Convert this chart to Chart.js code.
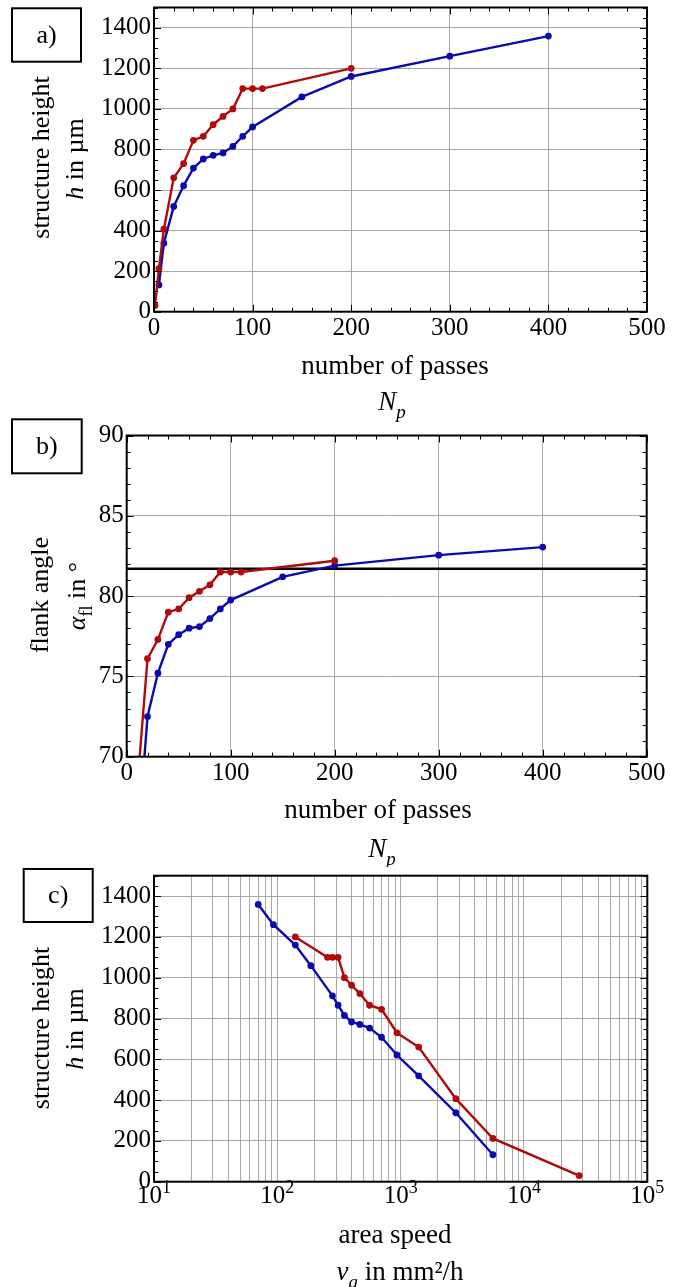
<!DOCTYPE html>
<html>
<head>
<meta charset="utf-8">
<script src="https://cdn.jsdelivr.net/npm/chart.js@4.4.1/dist/chart.umd.min.js"></script>
<style>
  body { margin: 0; background: #fff; width: 680px; height: 1287px; position: relative; overflow: hidden; }
  .panel { position: absolute; left: 0; width: 680px; }
</style>
</head>
<body>
<div class="panel" style="top:0;height:425px"><canvas id="chartA" width="680" height="425"></canvas></div>
<div class="panel" style="top:412px;height:455px"><canvas id="chartB" width="680" height="455"></canvas></div>
<div class="panel" style="top:862px;height:425px"><canvas id="chartC" width="680" height="425"></canvas></div>
<script>
// number of passes for the two series
const passesRed = [1, 5, 10, 20, 30, 40, 50, 60, 70, 80, 90, 100, 110, 200];
const passesBlue = [5, 10, 20, 30, 40, 50, 60, 70, 80, 90, 100, 150, 200, 300, 400];

// structure height h in µm
const heightRed = [30, 212, 407, 660, 730, 845, 865, 922, 963, 1000, 1100, 1100, 1100, 1200];
const heightBlue = [132, 338, 519, 621, 708, 753, 771, 783, 815, 865, 911, 1059, 1160, 1260, 1359];

// flank angle in degrees
const angleRed = [10, 52, 68, 76.1, 77.3, 79.0, 79.2, 79.9, 80.3, 80.7, 81.5, 81.5, 81.5, 82.2];
const angleBlue = [39, 64, 72.5, 75.2, 77.0, 77.6, 78.0, 78.1, 78.6, 79.2, 79.75, 81.2, 81.9, 82.55, 83.05];
const refAngle = 81.7;

// area speed in mm²/h
const speedRed = [28000, 5600, 2800, 1400, 933, 700, 560, 467, 400, 350, 311, 280, 255, 140];
const speedBlue = [5600, 2800, 1400, 933, 700, 560, 467, 400, 350, 311, 280, 187, 140, 93, 70];

// tick labels
const passTicks = [0, 100, 200, 300, 400, 500];
const heightTicks = [0, 200, 400, 600, 800, 1000, 1200, 1400];
const angleTicks = [70, 75, 80, 85, 90];
const speedDecades = [10, 100, 1000, 10000, 100000];
const decadeExponents = ['1', '2', '3', '4', '5'];

const RED = '#b00a0a';
const BLUE = '#0a0ab0';
const GRID = '#a8a8a8';
const SERIF = '"Liberation Serif", "Times New Roman", serif';
const TICK_SIZE = 25;

function pts(xs, ys) {
  return xs.map((x, i) => ({ x: x, y: ys[i] }));
}

function series(xs, ys, color) {
  return {
    data: pts(xs, ys),
    borderColor: color,
    backgroundColor: color,
    borderWidth: 2.4,
    pointRadius: 2.2,
    pointHoverRadius: 2.2,
    showLine: true,
    tension: 0,
  };
}

function drawRich(ctx, parts, x, y, size, rot) {
  ctx.save();
  ctx.translate(x, y);
  if (rot) ctx.rotate(-Math.PI / 2);
  ctx.fillStyle = '#000';
  ctx.textBaseline = 'alphabetic';
  ctx.textAlign = 'left';
  const font = p => (p.i ? 'italic ' : '') + Math.round(size * (p.sub || p.sup ? 0.7 : 1)) + 'px ' + SERIF;
  let total = 0;
  const widths = parts.map(p => {
    ctx.font = font(p);
    const w = ctx.measureText(p.t).width;
    total += w;
    return w;
  });
  let cx = -total / 2;
  parts.forEach((p, k) => {
    ctx.font = font(p);
    ctx.fillText(p.t, cx, p.sub ? size * 0.28 : p.sup ? -size * 0.4 : 0);
    cx += widths[k];
  });
  ctx.restore();
}

// frame, inner ticks, panel box and axis titles
const decor = {
  id: 'decor',
  afterDatasetsDraw(chart, args, o) {
    const { ctx, chartArea: a, scales } = chart;
    ctx.save();
    ctx.strokeStyle = '#000';
    ctx.lineWidth = 1;
    ctx.beginPath();
    if (o.minorX) {
      const sx = scales.x;
      for (let v = sx.min; v <= sx.max + 1e-9; v += o.minorX) {
        const len = Math.abs(v % o.majorX) < 1e-9 ? 7 : 4;
        const px = Math.round(sx.getPixelForValue(v)) + 0.5;
        ctx.moveTo(px, a.bottom); ctx.lineTo(px, a.bottom - len);
        ctx.moveTo(px, a.top); ctx.lineTo(px, a.top + len);
      }
    }
    const sy = scales.y;
    for (let v = sy.min; v <= sy.max + 1e-9; v += o.minorY) {
      const len = Math.abs((v - sy.min) % o.majorY) < 1e-9 ? 7 : 4;
      const py = Math.round(sy.getPixelForValue(v)) + 0.5;
      ctx.moveTo(a.left, py); ctx.lineTo(a.left + len, py);
      ctx.moveTo(a.right, py); ctx.lineTo(a.right - len, py);
    }
    ctx.stroke();
    ctx.lineWidth = 2;
    ctx.strokeRect(a.left, a.top, a.right - a.left, a.bottom - a.top);
    ctx.restore();
  },
  afterDraw(chart, args, o) {
    const ctx = chart.ctx;
    ctx.save();
    const b = o.box;
    ctx.lineWidth = 2;
    ctx.strokeStyle = '#000';
    ctx.strokeRect(b.x, b.y, b.w, b.h);
    ctx.fillStyle = '#000';
    ctx.font = '26px ' + SERIF;
    ctx.textAlign = 'center';
    ctx.textBaseline = 'middle';
    ctx.fillText(b.text, b.x + b.w / 2, b.y + b.h / 2 + 1);
    ctx.restore();
    if (o.decadeLabels) {
      const sx = chart.scales.x;
      speedDecades.forEach((d, k) => {
        drawRich(ctx, [{ t: '10' }, { t: decadeExponents[k], sup: true }], sx.getPixelForValue(d), chart.chartArea.bottom + 21, TICK_SIZE);
      });
    }
    o.titles.forEach(t => drawRich(ctx, t.parts, t.x, t.y, t.size || 27, t.rot));
  },
};

function xLinear(height) {
  return {
    type: 'linear', min: 0, max: 500,
    afterBuildTicks: s => { s.ticks = passTicks.map(v => ({ value: v })); },
    afterFit: s => { s.height = height; s.paddingLeft = 0; s.paddingRight = 0; },
    grid: { color: GRID, lineWidth: 1, drawTicks: false },
    border: { display: false },
    ticks: { color: '#000', font: { family: SERIF, size: TICK_SIZE }, padding: 2, maxRotation: 0, autoSkip: false, callback: v => String(v) },
  };
}

function yLinear(min, max, tickVals, width) {
  return {
    type: 'linear', min: min, max: max,
    afterBuildTicks: s => { s.ticks = tickVals.map(v => ({ value: v })); },
    afterFit: s => { s.width = width; s.paddingTop = 0; s.paddingBottom = 0; },
    grid: { color: GRID, lineWidth: 1, drawTicks: false },
    border: { display: false },
    ticks: { color: '#000', font: { family: SERIF, size: TICK_SIZE }, padding: 3, autoSkip: false, callback: v => String(v) },
  };
}

const base = {
  responsive: false,
  animation: false,
  devicePixelRatio: 1,
  events: [],
};

const structureTitle = [{ t: 'structure height' }];
const heightUnit = [{ t: 'h', i: true }, { t: ' in µm' }];

// a) structure height over number of passes
new Chart(document.getElementById('chartA'), {
  type: 'scatter',
  data: { datasets: [series(passesRed, heightRed, RED), series(passesBlue, heightBlue, BLUE)] },
  options: Object.assign({}, base, {
    layout: { padding: { left: 0, top: 7.5, right: 33, bottom: 0 } },
    scales: { x: xLinear(113.3), y: yLinear(0, 1500, heightTicks, 154) },
    plugins: {
      legend: { display: false }, tooltip: { enabled: false },
      decor: {
        minorX: 20, majorX: 100, minorY: 50, majorY: 200,
        box: { x: 12, y: 8.3, w: 69, h: 53.4, text: 'a)' },
        titles: [
          { parts: structureTitle, x: 49, y: 157.5, rot: true, size: 26 },
          { parts: heightUnit, x: 83, y: 159, rot: true, size: 26 },
          { parts: [{ t: 'number of passes' }], x: 395, y: 374 },
          { parts: [{ t: 'N', i: true }, { t: 'p', i: true, sub: true }], x: 392, y: 410 },
        ],
      },
    },
  }),
  plugins: [decor],
});

// b) flank angle over number of passes
const refLine = {
  data: [{ x: 0, y: refAngle }, { x: 500, y: refAngle }],
  borderColor: '#000', borderWidth: 2.5, pointRadius: 0, showLine: true,
};
new Chart(document.getElementById('chartB'), {
  type: 'scatter',
  data: { datasets: [series(passesRed, angleRed, RED), series(passesBlue, angleBlue, BLUE), refLine] },
  options: Object.assign({}, base, {
    layout: { padding: { left: 0, top: 23.5, right: 33.3, bottom: 0 } },
    scales: { x: xLinear(110.3), y: yLinear(70, 90, angleTicks, 126.7) },
    plugins: {
      legend: { display: false }, tooltip: { enabled: false },
      decor: {
        minorX: 20, majorX: 100, minorY: 1, majorY: 5,
        box: { x: 12, y: 7.3, w: 69.7, h: 54, text: 'b)' },
        titles: [
          { parts: [{ t: 'flank angle' }], x: 47.5, y: 183, rot: true, size: 26 },
          { parts: [{ t: 'α', i: true }, { t: 'fl', sub: true }, { t: ' in °' }], x: 85, y: 184, rot: true, size: 26 },
          { parts: [{ t: 'number of passes' }], x: 378, y: 406 },
          { parts: [{ t: 'N', i: true }, { t: 'p', i: true, sub: true }], x: 382, y: 445 },
        ],
      },
    },
  }),
  plugins: [decor],
});

// c) structure height over area speed
const logGrid = [];
speedDecades.forEach((d, k) => {
  const top = k === speedDecades.length - 1 ? 1 : 9;
  for (let m = 1; m <= top; m++) logGrid.push(d * m);
});
new Chart(document.getElementById('chartC'), {
  type: 'scatter',
  data: { datasets: [series(speedRed, heightRed, RED), series(speedBlue, heightBlue, BLUE)] },
  options: Object.assign({}, base, {
    layout: { padding: { left: 0, top: 13.7, right: 32.7, bottom: 0 } },
    scales: {
      x: {
        type: 'logarithmic', min: 10, max: 100000,
        afterBuildTicks: s => { s.ticks = logGrid.map(v => ({ value: v })); },
        afterFit: s => { s.height = 105.3; s.paddingLeft = 0; s.paddingRight = 0; },
        grid: { color: GRID, lineWidth: 1, drawTicks: false },
        border: { display: false },
        ticks: { display: false },
      },
      y: yLinear(0, 1500, heightTicks, 154),
    },
    plugins: {
      legend: { display: false }, tooltip: { enabled: false },
      decor: {
        minorY: 50, majorY: 200, decadeLabels: true,
        box: { x: 23.7, y: 7, w: 69, h: 53, text: 'c)' },
        titles: [
          { parts: structureTitle, x: 49, y: 166, rot: true, size: 26 },
          { parts: heightUnit, x: 83, y: 167, rot: true, size: 26 },
          { parts: [{ t: 'area speed' }], x: 395, y: 381 },
          { parts: [{ t: 'v', i: true }, { t: 'a', i: true, sub: true }, { t: ' in mm²/h' }], x: 400, y: 418 },
        ],
      },
    },
  }),
  plugins: [decor],
});
</script>
</body>
</html>
